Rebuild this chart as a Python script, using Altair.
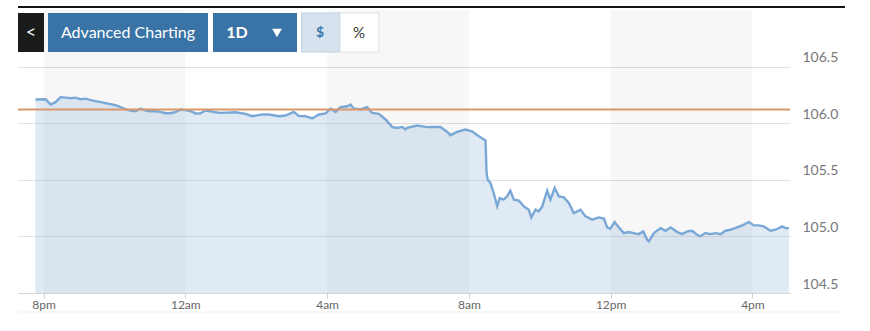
import altair as alt
import pandas as pd

# ---- data (hours since 8pm, price) ----
hours = [-0.23, 0.06, 0.20, 0.34, 0.48, 0.62, 0.76, 0.90, 1.04, 1.19, 1.33, 1.47, 1.61, 1.75,
         1.89, 2.03, 2.17, 2.31, 2.45, 2.60, 2.74, 2.88, 3.02, 3.16, 3.30, 3.44, 3.58, 3.72,
         3.87, 4.01, 4.15, 4.29, 4.43, 4.57, 4.71, 4.85, 4.99, 5.42, 5.70, 5.89, 6.17, 6.36,
         6.64, 6.83, 7.06, 7.20, 7.39, 7.58, 7.77, 7.96, 8.10, 8.24, 8.38, 8.57, 8.66, 8.75,
         8.94, 9.13, 9.27, 9.46, 9.65, 9.84, 9.98, 10.12, 10.21, 10.26, 10.54, 10.82, 11.01,
         11.20, 11.39, 11.48, 11.67, 11.90, 12.09, 12.28, 12.47, 12.50, 12.53, 12.61, 12.70,
         12.80, 12.87, 12.98, 13.08, 13.17, 13.27, 13.41, 13.55, 13.69, 13.76, 13.88, 13.97,
         14.07, 14.21, 14.30, 14.42, 14.54, 14.68, 14.82, 14.96, 15.15, 15.29, 15.48, 15.66,
         15.81, 15.90, 15.99, 16.11, 16.23, 16.37, 16.51, 16.65, 16.79, 16.92, 17.03, 17.08,
         17.22, 17.41, 17.55, 17.69, 17.88, 18.02, 18.16, 18.30, 18.44, 18.53, 18.67, 18.82,
         18.96, 19.10, 19.24, 19.38, 19.57, 19.76, 19.90, 20.04, 20.18, 20.32, 20.51, 20.65,
         20.84, 20.93, 21.03]
prices = [106.210, 106.212, 106.165, 106.186, 106.230, 106.226, 106.221, 106.226, 106.212,
          106.217, 106.204, 106.195, 106.186, 106.177, 106.168, 106.159, 106.142, 106.124,
          106.111, 106.106, 106.130, 106.111, 106.106, 106.106, 106.100, 106.088, 106.088,
          106.097, 106.121, 106.115, 106.106, 106.086, 106.088, 106.112, 106.106, 106.097,
          106.091, 106.097, 106.082, 106.062, 106.077, 106.077, 106.062, 106.068, 106.100,
          106.065, 106.062, 106.042, 106.077, 106.086, 106.130, 106.100, 106.142, 106.150,
          106.165, 106.130, 106.121, 106.142, 106.091, 106.082, 106.033, 105.965, 105.958,
          105.967, 105.944, 105.958, 105.980, 105.965, 105.967, 105.967, 105.923, 105.894,
          105.923, 105.944, 105.929, 105.885, 105.847, 105.560, 105.502, 105.472, 105.383,
          105.265, 105.339, 105.325, 105.354, 105.404, 105.325, 105.316, 105.265, 105.236,
          105.168, 105.236, 105.221, 105.265, 105.404, 105.325, 105.427, 105.354, 105.345,
          105.295, 105.206, 105.236, 105.177, 105.148, 105.168, 105.157, 105.080, 105.068,
          105.127, 105.080, 105.029, 105.038, 105.029, 105.020, 105.044, 104.971, 104.956,
          105.029, 105.073, 105.050, 105.080, 105.038, 105.020, 105.044, 105.050, 105.015,
          105.000, 105.029, 105.020, 105.029, 105.020, 105.050, 105.059, 105.080, 105.104,
          105.127, 105.097, 105.097, 105.088, 105.050, 105.059, 105.088, 105.073, 105.073]
prev_close = 106.12
band_starts = [0, 8, 16]
band_ends = [4, 12, 20]
tick_hours = [0, 4, 8, 12, 16, 20]
tick_labels = ["8pm", "12am", "4am", "8am", "12pm", "4pm"]
y_ticks = [104.5, 105.0, 105.5, 106.0, 106.5]
y_domain = [104.5, 107.0]
x_domain = [-0.72, 21.06]

W, H = 772, 283

df = pd.DataFrame({"h": hours, "p": prices})
bands = pd.DataFrame({"s": band_starts, "e": band_ends})
one = pd.DataFrame({"k": [0]})

xscale = alt.Scale(domain=x_domain, nice=False, zero=False)
yscale = alt.Scale(domain=y_domain, nice=False, zero=False)

label_expr = ("[" + ",".join(f"'{t}'" for t in tick_labels) + "][indexof(["
              + ",".join(str(v) for v in tick_hours) + "], datum.value)]")

xaxis = alt.Axis(values=tick_hours, labelExpr=label_expr, grid=False, title=None,
                 domainColor="#d6d6d6", tickColor="#cfcfcf", tickSize=5, labelPadding=1,
                 labelFont="Lato", labelFontSize=12, labelColor="#666666", labelFlush=False)
yaxis = alt.Axis(orient="right", values=y_ticks, format=".1f", grid=True, gridColor="#e2e2e2",
                 domain=False, ticks=False, tickSize=0, labelPadding=12, title=None,
                 labelFont="Lato", labelFontSize=14, labelColor="#777777",
                 labelBaseline="alphabetic", labelOffset=-5)


def xenc(field):
    return alt.X(field, type="quantitative", scale=xscale, axis=xaxis)


band_layer = alt.Chart(bands).mark_rect(color="#000000", opacity=0.03).encode(
    x=xenc("s"), x2="e", y=alt.value(0), y2=alt.value(H))

area_layer = alt.Chart(df).mark_area(color="#9cbfdc", opacity=0.32).encode(
    x=xenc("h"), y=alt.Y("p:Q", scale=yscale, axis=yaxis), y2=alt.datum(104.5))

line_layer = alt.Chart(df).mark_line(color="#7aa8d6", strokeWidth=2.4).encode(
    x=xenc("h"), y=alt.Y("p:Q", scale=yscale, axis=yaxis))

close_layer = alt.Chart(one).mark_rule(color="#d9976b", strokeWidth=2).encode(
    y=alt.datum(prev_close, scale=yscale))


def box(x0, x1, fill, stroke=""):
    kw = {"fill": fill}
    if stroke:
        kw["stroke"] = stroke
        kw["strokeWidth"] = 1
    return alt.Chart(one).mark_rect(**kw).encode(
        x=alt.value(x0), x2=alt.value(x1), y=alt.value(3), y2=alt.value(42))


def label(txt, x, color, size=15, weight="normal"):
    return alt.Chart(one).mark_text(text=txt, font="Lato", fontSize=size, color=color,
                                    fontWeight=weight, align="center", baseline="middle").encode(
        x=alt.value(x), y=alt.value(22.5))


top_line = alt.Chart(one).mark_rule(color="#151515", strokeWidth=2).encode(
    x=alt.value(0), x2=alt.value(827), y=alt.value(-3))
bottom_line = alt.Chart(one).mark_rule(color="#efefef", strokeWidth=1).encode(
    x=alt.value(0), x2=alt.value(824), y=alt.value(302))

tri = alt.Chart(one).mark_point(shape="triangle-down", filled=True, color="white",
                                opacity=1, size=95).encode(x=alt.value(259), y=alt.value(23))

chart = alt.layer(
    band_layer, area_layer, line_layer, close_layer, top_line, bottom_line,
    box(0, 26, "#1b1b1b"), box(30, 190, "#3a73a5"), box(195, 279, "#3a73a5"),
    box(283.5, 322, "#d6e2ee", "#c2d2e2"), box(322, 361, "#ffffff", "#d6e2ee"),
    label("<", 13, "white", 18), label("Advanced Charting", 110, "white", 16),
    label("1D", 219, "white", 16, "bold"), tri,
    label("$", 302, "#3c77b0", 14, "bold"), label("%", 341, "#333333", 15),
).properties(
    width=W, height=H,
    padding={"left": 18, "top": 10, "right": 80, "bottom": 38},
    autosize=alt.AutoSizeParams(type="none"),
).configure_view(stroke=None)

chart.save("out.html", embed_options={"renderer": "svg", "actions": False})
